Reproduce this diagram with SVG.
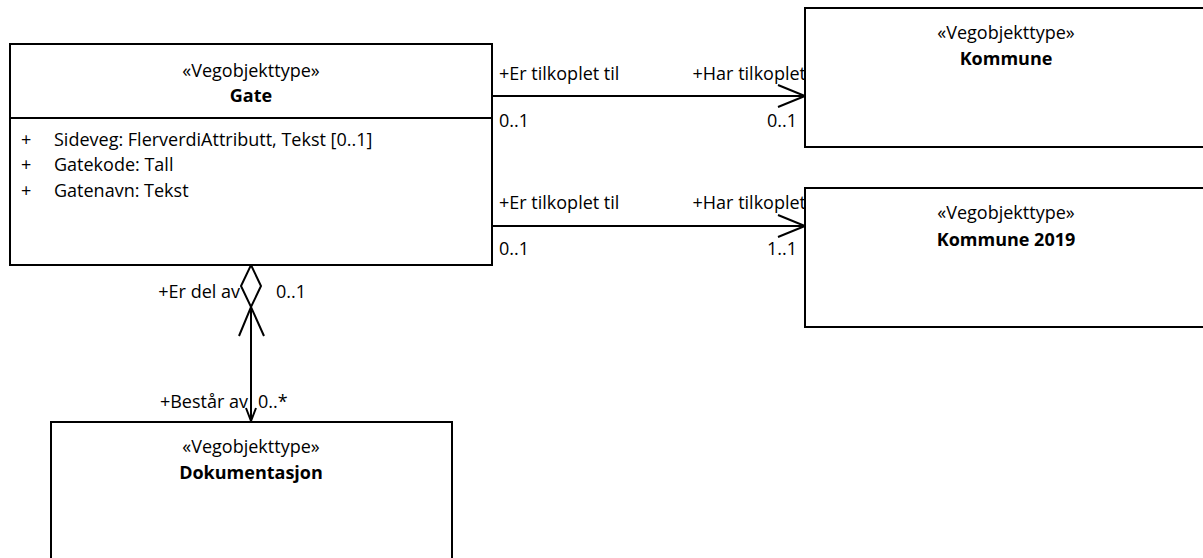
<svg xmlns="http://www.w3.org/2000/svg" width="1203" height="558" viewBox="0 0 1203 558">
<style>
text{font-family:"Open Sans","Noto Sans","Liberation Sans",sans-serif;font-size:18px;fill:#000}
.b{font-weight:bold}
.c{text-anchor:middle}
.r{text-anchor:end}
.box{fill:#fff;stroke:#000;stroke-width:2}
.ln{fill:none;stroke:#000;stroke-width:2}
</style>
<rect width="1203" height="558" fill="#fff"/>
<g id="connectors">
<line class="ln" x1="492" y1="96" x2="805" y2="96"/>
<polyline class="ln" points="778,85 805,96 778,107"/>
<text x="499" y="80">+Er tilkoplet til</text>
<text x="806" y="80" class="r">+Har tilkoplet</text>
<text x="499" y="127">0..1</text>
<text x="797" y="127" class="r">0..1</text>
<line class="ln" x1="492" y1="226" x2="805" y2="226"/>
<polyline class="ln" points="778,215 805,226 778,237"/>
<text x="499" y="209">+Er tilkoplet til</text>
<text x="806" y="209" class="r">+Har tilkoplet</text>
<text x="499" y="255">0..1</text>
<text x="797" y="255" class="r">1..1</text>
<line class="ln" x1="251" y1="307" x2="251" y2="421"/>
<polygon class="ln" points="251,265 261,286 251,307 241,286" fill="#fff"/>
<polyline class="ln" points="239,336 251,307 264,336"/>
<polyline class="ln" points="246,408 251,421 256,408"/>
<text x="240" y="298" class="r">+Er del av</text>
<text x="276" y="298">0..1</text>
<text x="248" y="408" class="r">+Består av</text>
<text x="258" y="408">0..*</text>
</g>
<g id="gate">
<rect class="box" x="10" y="44" width="482" height="221"/>
<line class="ln" x1="10" y1="118" x2="492" y2="118"/>
<text x="251" y="77" class="c">«Vegobjekttype»</text>
<text x="251" y="102" class="c b">Gate</text>
<text x="21" y="146">+</text>
<text x="54" y="146">Sideveg: FlerverdiAttributt, Tekst [0..1]</text>
<text x="21" y="171">+</text>
<text x="54" y="171">Gatekode: Tall</text>
<text x="21" y="197">+</text>
<text x="54" y="197">Gatenavn: Tekst</text>
</g>
<g id="kommune">
<rect class="box" x="805" y="8" width="410" height="139"/>
<text x="1006" y="39" class="c">«Vegobjekttype»</text>
<text x="1006" y="65" class="c b">Kommune</text>
</g>
<g id="kommune2019">
<rect class="box" x="805" y="188" width="410" height="139"/>
<text x="1006" y="219" class="c">«Vegobjekttype»</text>
<text x="1006" y="246" class="c b">Kommune 2019</text>
</g>
<g id="dokumentasjon">
<rect class="box" x="51" y="422" width="401" height="150"/>
<text x="251" y="453" class="c">«Vegobjekttype»</text>
<text x="251" y="479" class="c b">Dokumentasjon</text>
</g>
</svg>
